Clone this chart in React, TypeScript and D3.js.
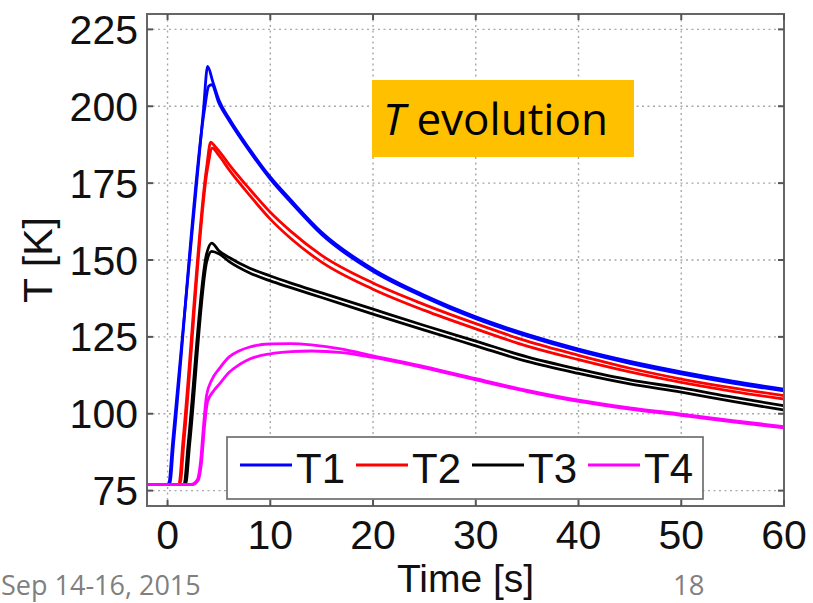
import React from "react";
import * as d3 from "d3";

// Temperature histories (time [s], T [K]); each sensor has two runs.
const t1a: [number, number][] = [[-2,77],[0.1,77],[0.5,91],[3.5,199],[3.9,213],[4.4,208],[5,202],[6,196],[8,186],[10,177],[12,169.5],[15,159],[20,147],[25,138.5],[30,131.5],[35,125.8],[40,121],[45,117],[50,113.6],[55,110.6],[60,108]];
const t1b: [number, number][] = [[-2,77],[0.2,77],[0.6,91],[3.6,199],[4.0,206.5],[4.3,207],[5,201],[6,195.3],[8,185.3],[10,176.3],[12,168.8],[15,158.3],[20,146.3],[25,137.9],[30,130.9],[35,125.2],[40,120.4],[45,116.4],[50,113],[55,110],[60,107.4]];
const t2a: [number, number][] = [[-2,77],[1.1,77],[1.5,91],[3.8,180],[4.2,188.3],[4.6,187],[5,185.5],[6,181],[8,173],[10,165.5],[12,159.3],[15,151.5],[20,142.5],[25,135.5],[30,129.3],[35,123.6],[40,119],[45,114.8],[50,111.3],[55,108.4],[60,105.9]];
const t2b: [number, number][] = [[-2,77],[1.2,77],[1.6,91],[3.9,180],[4.35,186.4],[5,184],[6,179.3],[8,171],[10,163.3],[12,157],[15,149.3],[20,140.5],[25,133.6],[30,127.6],[35,122],[40,117.6],[45,113.6],[50,110.2],[55,107.3],[60,104.8]];
const t3a: [number, number][] = [[-2,77],[1.6,77],[2.0,90],[3.8,152],[4.3,155.5],[5,153],[6,150.8],[8,147.3],[10,144.8],[12,142.5],[15,139.3],[20,134],[25,128.7],[30,123.6],[35,118.5],[40,114.5],[45,111],[50,108.4],[55,105.4],[60,102.6]];
const t3b: [number, number][] = [[-2,77],[1.75,77],[2.15,90],[3.85,150],[4.3,152.8],[5,152],[6,149.5],[8,145.8],[10,143.2],[12,141],[15,137.8],[20,132.4],[25,127.2],[30,122.1],[35,117],[40,113.1],[45,109.7],[50,107],[55,104],[60,101.2]];
const t4a: [number, number][] = [[-2,77],[2.3,77],[2.9,78.5],[3.2,84],[3.5,96],[3.8,106],[4.3,111],[5,114.5],[6,118.5],[7,120.5],[8,121.7],[10,122.7],[12,122.8],[14,122.4],[17,121],[20,118.8],[25,115.3],[30,111.4],[35,107.6],[40,104.4],[45,101.9],[50,99.9],[55,97.8],[60,95.8]];
const t4b: [number, number][] = [[-2,77],[2.4,77],[3.0,78.5],[3.3,84],[3.6,96],[3.9,104],[4.5,107.5],[5,109.5],[6,113.5],[7,116],[8,117.8],[10,119.5],[12,120.2],[14,120.4],[17,119.9],[20,118.3],[25,114.9],[30,111],[35,107.2],[40,104],[45,101.5],[50,99.5],[55,97.4],[60,95.4]];

const seriesNames = ["T1", "T2", "T3", "T4"];
const seriesColors = ["#0000ff", "#ff0000", "#000000", "#ff00ff"];
const seriesRuns = [[t1a, t1b], [t2a, t2b], [t3a, t3b], [t4a, t4b]];

const xTicks = [0, 10, 20, 30, 40, 50, 60];
const yTicks = [75, 100, 125, 150, 175, 200, 225];

const W = 813;
const H = 603;
const plot = { left: 147, right: 784, top: 14, bottom: 506 };

export default function App() {
  const x = d3.scaleLinear().domain([-2, 60]).range([plot.left, plot.right]);
  const y = d3.scaleLinear().domain([70, 230]).range([plot.bottom, plot.top]);
  const line = d3
    .line<[number, number]>()
    .x((d) => x(d[0]))
    .y((d) => y(d[1]))
    .curve(d3.curveMonotoneX);

  const axisFont = "'Liberation Sans', Arial, Helvetica, sans-serif";
  const slideFont = "'Open Sans', sans-serif";
  const tickLen = 6;

  return (
    <svg
      width={W}
      height={H}
      viewBox={`0 0 ${W} ${H}`}
      style={{ position: "absolute", left: 0, top: 0, display: "block", background: "#fff" }}
    >
      <defs>
        <clipPath id="plot-clip">
          <rect x={plot.left} y={plot.top} width={plot.right - plot.left} height={plot.bottom - plot.top} />
        </clipPath>
      </defs>

      {/* dotted grid */}
      <g stroke="#a8a8a8" strokeWidth={1.4} strokeDasharray="2,3.5">
        {xTicks.filter((t) => t < 60).map((t) => (
          <line key={"gx" + t} x1={x(t)} x2={x(t)} y1={plot.top} y2={plot.bottom} />
        ))}
        {yTicks.map((t) => (
          <line key={"gy" + t} x1={plot.left} x2={plot.right} y1={y(t)} y2={y(t)} />
        ))}
      </g>

      {/* data */}
      <g clipPath="url(#plot-clip)" fill="none" strokeWidth={2.8} strokeLinejoin="round">
        {seriesRuns.map((runs, i) =>
          runs.map((run, j) => (
            <path key={`s${i}-${j}`} d={line(run) || ""} stroke={seriesColors[i]} />
          ))
        )}
      </g>

      {/* frame and inward ticks */}
      <rect
        x={plot.left}
        y={plot.top}
        width={plot.right - plot.left}
        height={plot.bottom - plot.top}
        fill="none"
        stroke="#666"
        strokeWidth={2}
      />
      <g stroke="#555" strokeWidth={2}>
        {xTicks.map((t) => (
          <g key={"tx" + t}>
            <line x1={x(t)} x2={x(t)} y1={plot.bottom} y2={plot.bottom - tickLen} />
            <line x1={x(t)} x2={x(t)} y1={plot.top} y2={plot.top + tickLen} />
          </g>
        ))}
        {yTicks.map((t) => (
          <g key={"ty" + t}>
            <line x1={plot.left} x2={plot.left + tickLen} y1={y(t)} y2={y(t)} />
            <line x1={plot.right} x2={plot.right - tickLen} y1={y(t)} y2={y(t)} />
          </g>
        ))}
      </g>

      {/* tick labels */}
      <g fontFamily={axisFont} fontSize={41} fill="#111">
        {xTicks.map((t) => (
          <text key={"lx" + t} x={x(t)} y={549} textAnchor="middle">
            {t}
          </text>
        ))}
        {yTicks.map((t) => (
          <text key={"ly" + t} x={138} y={y(t) + 14.5} textAnchor="end">
            {t}
          </text>
        ))}
      </g>

      {/* axis titles */}
      <text x={(plot.left + plot.right) / 2} y={592} textAnchor="middle" fontFamily={axisFont} fontSize={39} fill="#111">
        Time [s]
      </text>
      <text
        transform={`translate(52, ${(plot.top + plot.bottom) / 2}) rotate(-90)`}
        textAnchor="middle"
        fontFamily={axisFont}
        fontSize={41}
        fill="#111"
      >
        T [K]
      </text>

      {/* legend */}
      <g>
        <rect x={227} y={437} width={476} height={62} fill="#fff" stroke="#666" strokeWidth={1.6} />
        {seriesNames.map((name, i) => {
          const lx = 240 + i * 116;
          return (
            <g key={name}>
              <line x1={lx} x2={lx + 52} y1={465} y2={465} stroke={seriesColors[i]} strokeWidth={3} />
              <text x={lx + 56} y={483} fontFamily={axisFont} fontSize={42} fill="#111">
                {name}
              </text>
            </g>
          );
        })}
      </g>

      {/* title badge */}
      <rect x={372} y={80} width={262} height={77} fill="#ffc000" />
      <text x={383} y={135} fontFamily={slideFont} fontSize={44} fill="#000">
        <tspan fontStyle="italic">T</tspan>
        <tspan> evolution</tspan>
      </text>

      {/* footer */}
      <text x={1} y={595} fontFamily={slideFont} fontSize={27} fill="#808080">
        Sep 14-16, 2015
      </text>
      <text x={673} y={595} fontFamily={slideFont} fontSize={27.5} fill="#808080">
        18
      </text>
    </svg>
  );
}
